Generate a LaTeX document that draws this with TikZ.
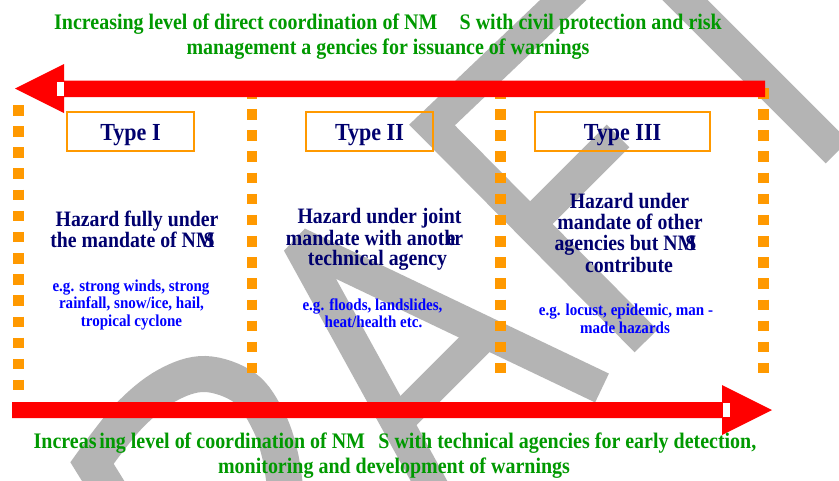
\documentclass[tikz,border=0pt]{standalone}
\usepackage{fontspec}
\newfontfamily\diagfont{Liberation Serif}[FakeStretch=0.9]
\definecolor{arrowred}{RGB}{255,0,0}
\definecolor{dotorange}{RGB}{255,153,0}
\definecolor{headgreen}{RGB}{0,153,0}
\definecolor{hazardnavy}{RGB}{0,0,110}
\definecolor{exblue}{RGB}{0,0,255}
\definecolor{wmgray}{RGB}{180,180,180}

\tikzset{
  wmstroke/.style={draw=wmgray, line width=32pt, line join=miter, line cap=butt},
  dotcol/.style={draw=dotorange, line width=10.5pt, dash pattern=on 10.5pt off 10.65pt},
  greentxt/.style={anchor=base, inner sep=0pt, text=headgreen,
    font=\diagfont\bfseries\fontsize{22.2}{24}\selectfont},
  navytxt/.style={anchor=base, inner sep=0pt, text=hazardnavy,
    font=\diagfont\bfseries\fontsize{22}{24}\selectfont},
  bluetxt/.style={anchor=base, inner sep=0pt, text=exblue,
    font=\diagfont\bfseries\fontsize{16.7}{18}\selectfont},
  typebox/.style={draw=dotorange, line width=1.5pt, inner sep=0pt,
    minimum height=39pt, text height=28.7pt, text depth=10.3pt,
    text=hazardnavy, font=\diagfont\bfseries\fontsize{24.5}{26}\selectfont}
}

\begin{document}
\begin{tikzpicture}[x=1pt, y=-1pt]
\useasboundingbox (0,0) rectangle (839,480);
\fill[white] (0,0) rectangle (839,480);

% large diagonal watermark lettering
\begin{scope}
  \clip (0,0) rectangle (839,480);
  % rounded letter at lower left
  \draw[wmstroke, line width=36pt] (118,505) -- plot[smooth, tension=0.6] coordinates
    {(92,463) (128,417) (166,386) (205,374) (245,388) (268,420) (280,455) (286,495)};
  % A
  \draw[wmstroke, line join=bevel] (445,510) -- (298,243) -- (602,388);
  \draw[wmstroke] (397,422) -- (486,333);
  % F
  \draw[wmstroke] (646,341) -- (432,125) -- (621,-55);
  \draw[wmstroke] (530,224) -- (618,136);
  % T
  \draw[wmstroke] (600,-85) -- (837,152);
\end{scope}

% orange dotted separators
\coordinate (c1t) at (18.5,105);  \coordinate (c1b) at (18.5,391.2);
\coordinate (c2t) at (252,88);    \coordinate (c2b) at (252,373.5);
\coordinate (c3t) at (500.5,88);  \coordinate (c3b) at (500.5,373.5);
\coordinate (c4t) at (763.5,88);  \coordinate (c4b) at (763.5,373.5);
\draw[dotcol] (c1t) -- (c1b);
\draw[dotcol] (c2t) -- (c2b);
\draw[dotcol] (c3t) -- (c3b);
\draw[dotcol] (c4t) -- (c4b);

% top arrow, pointing left
\fill[arrowred] (15,88.5) -- (64,64) -- (64,80.5) -- (765,80.5) -- (765,97)
  -- (64,97) -- (64,113) -- cycle;
\fill[white] (57,82) rectangle (64,96);

% bottom arrow, pointing right
\fill[arrowred] (772,410) -- (722,385) -- (722,402) -- (12,402) -- (12,418)
  -- (722,418) -- (722,435) -- cycle;
\fill[white] (722.5,403) rectangle (730,417);

% type boxes
\node[typebox, minimum width=127pt] (type1) at (130.5,131.5) {Type I};
\node[typebox, minimum width=127pt] (type2) at (369.5,131.5) {Type II};
\node[typebox, minimum width=175pt] (type3) at (622.5,131.5) {Type III};

% headings
\node[greentxt] (topA) at (388,29) {Increasing level of direct coordination of NM\hspace{1em}S with civil protection and risk};
\node[greentxt] (topB) at (388,54) {management a gencies for issuance of warnings};
\node[greentxt] (botA) at (395,448.5) {Increas\hspace{0.12em}ing level of coordination of NM\hspace{0.6em}S with technical agencies for early detection,};
\node[greentxt] (botB) at (394,473.5) {monitoring and development of warnings};

% hazard descriptions
\node[navytxt] (h1a) at (137,226) {Hazard fully under};
\node[navytxt] (h1b) at (132.5,247) {the mandate of NM\kern-0.5em S};
\node[navytxt] (h2a) at (379.5,223) {Hazard under joint};
\node[navytxt] (h2b) at (374.5,245) {mandate with anot\rlap{h}\kern0.1em\rlap{e}\kern0.35em r};
\node[navytxt] (h2c) at (377.5,265) {technical agency};
\node[navytxt] (h3a) at (629.5,208) {Hazard under};
\node[navytxt] (h3b) at (630,229) {mandate of other};
\node[navytxt] (h3c) at (625.5,250) {agencies but NM\kern-0.5em S};
\node[navytxt] (h3d) at (629,272) {contribute};

% examples
\node[bluetxt] (e1a) at (131,291) {e.g. strong winds, strong};
\node[bluetxt] (e1b) at (131.5,308) {rainfall, snow/ice, hail,};
\node[bluetxt] (e1c) at (131.5,326) {tropical cyclone};
\node[bluetxt] (e2a) at (372.5,310) {e.g. floods, landslides,};
\node[bluetxt] (e2b) at (373.5,327) {heat/health etc.};
\node[bluetxt] (e3a) at (626,315) {e.g. locust, epidemic, man -};
\node[bluetxt] (e3b) at (625,333) {made hazards};
\end{tikzpicture}
\end{document}
